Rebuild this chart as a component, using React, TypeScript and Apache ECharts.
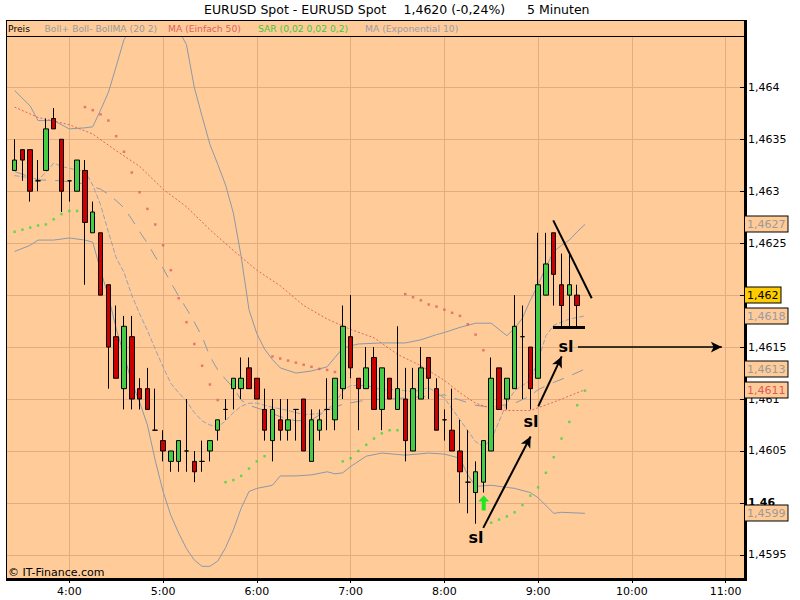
import React, { useEffect, useRef } from 'react';
import * as echarts from 'echarts';

const FONT = '"DejaVu Sans", Verdana, sans-serif';

// ---- data (times are hh:mm, prices EURUSD) ----
const candleTimes = ['3:25','3:30','3:35','3:40','3:45','3:50','3:55','4:00','4:05','4:10','4:15','4:20','4:25','4:30','4:35','4:40','4:45','4:50','4:55','5:00','5:05','5:10','5:15','5:20','5:25','5:30','5:35','5:40','5:45','5:50','5:55','6:00','6:05','6:10','6:15','6:20','6:25','6:30','6:35','6:40','6:45','6:50','6:55','7:00','7:05','7:10','7:15','7:20','7:25','7:30','7:35','7:40','7:45','7:50','7:55','8:00','8:05','8:10','8:15','8:20','8:25','8:30','8:35','8:40','8:45','8:50','8:55','9:00','9:05','9:10','9:15','9:20','9:25'];
const opens  = [1.4632,1.4634,1.4634,1.4631,1.4632,1.4637,1.4635,1.4631,1.4630,1.4632,1.4626,1.4626,1.4621,1.4616,1.4611,1.4616,1.4611,1.4611,1.4607,1.4606,1.4604,1.4604,1.4605,1.4604,1.4604,1.4605,1.4607,1.4609,1.4611,1.4611,1.4613,1.4612,1.4609,1.4606,1.4608,1.4607,1.4609,1.4610,1.4604,1.4607,1.4609,1.4608,1.4611,1.4616,1.4612,1.4611,1.4614,1.4609,1.4612,1.4609,1.4610,1.4605,1.4610,1.4614,1.4611,1.4608,1.4607,1.4605,1.4602,1.4601,1.4602,1.4605,1.4613,1.4610,1.4611,1.4616,1.4615,1.4612,1.4620,1.4626,1.4621,1.4620,1.4620];
const closes = [1.4633,1.4633,1.4630,1.4631,1.4636,1.4636,1.4630,1.4631,1.4633,1.4627,1.4628,1.4620,1.4615,1.4612,1.4617,1.4610,1.4610,1.4609,1.4607,1.4605,1.4605,1.4606,1.4605,1.4603,1.4604,1.4606,1.4608,1.4609,1.4612,1.4612,1.4611,1.4610,1.4607,1.4609,1.4607,1.4608,1.4609,1.4605,1.4608,1.4608,1.4609,1.4612,1.4617,1.4613,1.4611,1.4613,1.4609,1.4613,1.4610,1.4611,1.4606,1.4611,1.4613,1.4612,1.4607,1.4608,1.4605,1.4603,1.4602,1.4603,1.4606,1.4612,1.4609,1.4612,1.4617,1.4616,1.4611,1.4621,1.4623,1.4622,1.4619,1.4621,1.4619];
const lows   = [1.4632,1.4631,1.4629,1.4630,1.4632,1.4636,1.4628,1.4629,1.4630,1.4621,1.4626,1.4620,1.4611,1.4612,1.4609,1.4609,1.4609,1.4609,1.4607,1.4604,1.4603,1.4603,1.4603,1.4602,1.4603,1.4604,1.4606,1.4608,1.4609,1.4610,1.4611,1.4610,1.4606,1.4604,1.4606,1.4606,1.4606,1.4605,1.4604,1.4606,1.4607,1.4607,1.4610,1.4612,1.4607,1.4611,1.4609,1.4607,1.4610,1.4609,1.4604,1.4605,1.4610,1.4610,1.4607,1.4606,1.4605,1.4600,1.4599,1.4598,1.4601,1.4605,1.4609,1.4609,1.4611,1.4610,1.4609,1.4612,1.4620,1.4619,1.4617,1.4617,1.4617];
const highs  = [1.4635,1.4634,1.4634,1.4633,1.4637,1.4638,1.4635,1.4631,1.4633,1.4633,1.4629,1.4626,1.4621,1.4619,1.4618,1.4618,1.4612,1.4613,1.4611,1.4607,1.4605,1.4606,1.4610,1.4605,1.4606,1.4606,1.4608,1.4610,1.4612,1.4614,1.4614,1.4612,1.4611,1.4610,1.4610,1.4610,1.4609,1.4610,1.4609,1.4609,1.4612,1.4612,1.4619,1.4620,1.4612,1.4615,1.4615,1.4613,1.4612,1.4617,1.4613,1.4613,1.4615,1.4614,1.4612,1.4609,1.4611,1.4608,1.4607,1.4604,1.4606,1.4614,1.4613,1.4612,1.4620,1.4619,1.4615,1.4626,1.4626,1.4626,1.4624,1.4624,1.4621];

const upperTimes = ['3:25','3:35','3:40','3:50','4:00','4:10','4:15','4:20','4:25','4:30','4:35','4:40','4:50','5:00','5:10','5:15','5:20','5:25','5:30','5:35','5:40','5:45','5:50','5:55','6:00','6:05','6:10','6:15','6:25','6:35','6:45','6:50','6:55','7:05','7:20','7:35','7:45','7:55','8:00','8:10','8:20','8:30','8:40','8:45','8:50','8:55','9:00','9:05','9:10','9:15','9:20','9:25','9:30'];
const upperBand = [1.46397,1.46382,1.46368,1.46368,1.46360,1.46361,1.46362,1.46378,1.46395,1.46420,1.46446,1.46457,1.46468,1.46473,1.46455,1.46441,1.46400,1.46372,1.46345,1.46326,1.46306,1.46279,1.46237,1.46186,1.46163,1.46148,1.46138,1.46130,1.46125,1.46127,1.46131,1.46140,1.46149,1.46153,1.46154,1.46154,1.46157,1.46162,1.46164,1.46169,1.46173,1.46173,1.46161,1.46168,1.46178,1.46195,1.46210,1.46227,1.46242,1.46248,1.46253,1.46261,1.46268];

const lowerTimes = ['3:25','3:35','3:40','3:50','4:00','4:10','4:15','4:20','4:25','4:30','4:35','4:40','4:45','4:50','4:55','5:00','5:05','5:10','5:15','5:20','5:25','5:30','5:35','5:40','5:45','5:50','5:55','6:00','6:10','6:15','6:25','6:35','6:45','6:50','6:55','7:00','7:10','7:20','7:35','7:50','8:00','8:10','8:15','8:20','8:30','8:40','8:45','8:55','9:00','9:10','9:15','9:30'];
const lowerBand = [1.46242,1.46248,1.46253,1.46253,1.46255,1.46253,1.46251,1.46224,1.46199,1.46168,1.46142,1.46116,1.46097,1.46075,1.46041,1.46011,1.45988,1.45971,1.45956,1.45945,1.45939,1.45939,1.45944,1.45957,1.45974,1.45995,1.46011,1.46014,1.46017,1.46026,1.46026,1.46027,1.46030,1.46028,1.46029,1.46035,1.46045,1.46048,1.46046,1.46048,1.46047,1.46043,1.46027,1.46016,1.46017,1.46015,1.46014,1.46010,1.46005,1.45990,1.45991,1.45990];

const middleTimes = ['3:25','3:40','3:55','4:10','4:20','4:25','4:30','4:35','4:40','4:45','4:50','4:55','5:00','5:05','5:10','5:15','5:20','5:25','5:30','5:35','5:40','5:45','5:50','5:55','6:05','6:15','6:25','6:35','6:45','6:55','7:10','7:35','8:00','8:10','8:20','8:30','8:45','8:55','9:00','9:10','9:20','9:30'];
const middleBand = [1.46319,1.46311,1.46310,1.46307,1.46302,1.46297,1.46291,1.46284,1.46273,1.46261,1.46250,1.46237,1.46226,1.46212,1.46199,1.46187,1.46174,1.46160,1.46141,1.46128,1.46119,1.46111,1.46099,1.46094,1.46089,1.46083,1.46079,1.46080,1.46089,1.46095,1.46099,1.46101,1.46104,1.46099,1.46094,1.46092,1.46096,1.46103,1.46109,1.46116,1.46122,1.46129];

const emaTimes = ['3:25','3:35','3:40','3:45','3:50','3:55','4:00','4:10','4:15','4:20','4:25','4:30','4:35','4:40','4:45','4:50','4:55','5:00','5:05','5:10','5:15','5:20','5:25','5:30','5:35','5:40','5:45','5:50','5:55','6:00','6:10','6:20','6:30','6:40','6:50','6:55','7:00','7:10','7:20','7:30','7:40','7:50','8:00','8:10','8:20','8:25','8:30','8:40','8:45','8:55','9:00','9:05','9:10','9:20','9:30'];
const ema10 = [1.46315,1.46313,1.46311,1.46318,1.46327,1.46324,1.46322,1.46319,1.46306,1.46287,1.46261,1.46236,1.46222,1.46200,1.46182,1.46166,1.46148,1.46131,1.46115,1.46106,1.46098,1.46087,1.46079,1.46075,1.46073,1.46079,1.46087,1.46093,1.46096,1.46096,1.46092,1.46089,1.46085,1.46086,1.46095,1.46108,1.46113,1.46113,1.46109,1.46109,1.46107,1.46111,1.46101,1.46080,1.46059,1.46054,1.46061,1.46096,1.46108,1.46118,1.46137,1.46161,1.46171,1.46177,1.46180];

const maTimes = ['3:25','3:40','4:00','4:15','4:30','4:45','5:00','5:15','5:30','5:45','6:00','6:15','6:30','6:45','7:00','7:15','7:30','7:45','8:00','8:10','8:20','8:30','8:40','8:55','9:10','9:20','9:30'];
const ma50 = [1.46381,1.46371,1.46364,1.46355,1.46339,1.46324,1.46302,1.46285,1.46263,1.46243,1.46224,1.46209,1.46190,1.46177,1.46167,1.46159,1.46143,1.46132,1.46118,1.46106,1.46096,1.46091,1.46089,1.46089,1.46097,1.46103,1.46109];

const sarBullTimes = ['3:25','3:30','3:35','3:40','3:45','3:50','3:55','4:00','4:05','5:40','5:45','5:50','5:55','6:00','6:05','6:55','7:00','7:05','7:10','7:15','7:20','7:25','7:30','8:30','8:35','8:40','8:45','8:50','8:55','9:00','9:05','9:10','9:15','9:20','9:25','9:30'];
const sarBull = [1.46261,1.46263,1.46265,1.46267,1.46268,1.46273,1.46278,1.46281,1.46281,1.46020,1.46022,1.46026,1.46033,1.46040,1.46045,1.46040,1.46043,1.46050,1.46056,1.46062,1.46067,1.46070,1.46070,1.45981,1.45984,1.45987,1.45991,1.45998,1.46007,1.46015,1.46029,1.46044,1.46062,1.46078,1.46094,1.46108];
const sarBearTimes = ['4:10','4:15','4:20','4:25','4:30','4:35','4:40','4:45','4:50','4:55','5:00','5:05','5:10','5:15','5:20','5:25','5:30','5:35','6:10','6:15','6:20','6:25','6:30','6:35','6:40','6:45','6:50','7:35','7:40','7:45','7:50','7:55','8:00','8:05','8:10','8:15','8:20','8:25'];
const sarBear = [1.46381,1.46378,1.46374,1.46368,1.46353,1.46338,1.46318,1.46299,1.46283,1.46268,1.46248,1.46224,1.46197,1.46174,1.46153,1.46132,1.46114,1.46099,1.46141,1.46139,1.46137,1.46135,1.46133,1.46131,1.46129,1.46128,1.46126,1.46201,1.46198,1.46195,1.46191,1.46189,1.46186,1.46183,1.46180,1.46172,1.46162,1.46147];

const hourLabels = ['4:00','5:00','6:00','7:00','8:00','9:00','10:00','11:00'];
const priceTicks = [1.4595,1.46,1.4605,1.461,1.4615,1.462,1.4625,1.463,1.4635,1.464];
const lastPrice = 1.4620;
const changePct = -0.24;

// drawn trend lines / arrows (time, price)
const trendLines = [
  { from: ['9:09.7', 1.46272], to: ['9:34.3', 1.46197], width: 2, arrow: false },
  { from: ['9:09.5', 1.46169], to: ['9:30', 1.46169], width: 3, arrow: false },
  { from: ['9:25.5', 1.4615], to: ['10:57.6', 1.4615], width: 1.5, arrow: true },
  { from: ['9:00.1', 1.46093], to: ['9:15.1', 1.46141], width: 2, arrow: true },
  { from: ['8:24.9', 1.45976], to: ['8:55.2', 1.46064], width: 2, arrow: true },
];
const slTexts = [['9:17.8', 1.46151], ['8:55.4', 1.46078], ['8:20.2', 1.45967]];
const buySignal = ['8:25.2', 1.46000];

// ---- helpers ----
const toMin = (s: string) => { const [h, m] = s.split(':'); return Number(h) * 60 + Number(m); };
const fmtTime = (v: number) => `${Math.floor(v / 60)}:${String(Math.round(v % 60)).padStart(2, '0')}`;
const fmtPrice = (v: number) => v.toFixed(4).replace(/0+$/, '').replace(/\.$/, '').replace('.', ',');
const pairs = (ts: string[], vs: number[]) => ts.map((t, i) => [toMin(t), vs[i]]);

const GRID_COLOR = '#e3ad7f';
const BAND_COLOR = '#8c98a8';

export default function App() {
  const ref = useRef<HTMLDivElement>(null);
  useEffect(() => {
    if (!ref.current) return;
    const chart = echarts.init(ref.current, undefined, { renderer: 'svg' });
    const hourTicks = hourLabels.map(toMin);
    const option: any = {
      animation: false,
      backgroundColor: '#ffffff',
      grid: { left: 6, right: 55, top: 36, bottom: 21, show: true, backgroundColor: '#ffcc99', borderWidth: 0 },
      xAxis: {
        type: 'value', min: 199.5, max: 672.4,
        axisLine: { show: false },
        axisTick: { show: true, customValues: hourTicks, length: 4, lineStyle: { color: '#000' } },
        axisLabel: { customValues: hourTicks, formatter: (v: number) => fmtTime(v), color: '#000', fontFamily: FONT, fontSize: 11, margin: 7 },
        splitLine: { show: true, lineStyle: { color: GRID_COLOR, width: 1 } },
      },
      yAxis: {
        type: 'value', position: 'right', min: 1.459268, max: 1.464494, scale: true,
        axisLine: { show: false },
        axisTick: { show: true, inside: true, length: 5, customValues: priceTicks, lineStyle: { color: '#000' } },
        axisLabel: {
          customValues: priceTicks, color: '#000', fontFamily: FONT, fontSize: 11, margin: 3,
          formatter: (v: number) => (Math.abs(v - 1.46) < 1e-9 ? `{b|${fmtPrice(v)}}` : fmtPrice(v)),
          rich: { b: { fontWeight: 'bold', fontFamily: FONT, fontSize: 11, color: '#000' } },
        },
        splitLine: { show: true, lineStyle: { color: GRID_COLOR, width: 1 } },
      },
      series: [
        { type: 'line', name: 'BollUp', data: pairs(upperTimes, upperBand), symbol: 'none', silent: true, z: 1, lineStyle: { color: BAND_COLOR, width: 1 } },
        { type: 'line', name: 'BollDn', data: pairs(lowerTimes, lowerBand), symbol: 'none', silent: true, z: 1, lineStyle: { color: BAND_COLOR, width: 1 } },
        { type: 'line', name: 'BollMA', data: pairs(middleTimes, middleBand), symbol: 'none', silent: true, z: 1, lineStyle: { color: BAND_COLOR, width: 1, type: [12, 9] } },
        { type: 'line', name: 'MA50', data: pairs(maTimes, ma50), symbol: 'none', silent: true, z: 1, lineStyle: { color: '#e06464', width: 1, type: [2, 2] } },
        { type: 'line', name: 'EMA10', data: pairs(emaTimes, ema10), symbol: 'none', silent: true, z: 1, lineStyle: { color: '#99a1b3', width: 1, type: [5, 2] } },
        { type: 'scatter', name: 'SARbull', data: pairs(sarBullTimes, sarBull), symbol: 'rect', symbolSize: 2.5, silent: true, z: 2, itemStyle: { color: '#3ed83e' } },
        { type: 'scatter', name: 'SARbear', data: pairs(sarBearTimes, sarBear), symbol: 'rect', symbolSize: 2.5, silent: true, z: 2, itemStyle: { color: '#e06060' } },
        {
          type: 'candlestick', name: 'Preis', z: 3, silent: true, barWidth: 5,
          data: candleTimes.map((t, i) => [toMin(t), opens[i], closes[i], lows[i], highs[i]]),
          itemStyle: { color: '#44cc44', color0: '#cc0000', borderColor: '#000', borderColor0: '#000', borderWidth: 1 },
          markLine: {
            silent: true, symbol: ['none', 'none'], label: { show: false },
            lineStyle: { color: '#000', width: 2, type: 'solid' },
            data: trendLines.map((l) => [
              { coord: [toMin(l.from[0] as string), l.from[1]], symbol: 'none', lineStyle: { color: '#000', width: l.width, type: 'solid' } },
              { coord: [toMin(l.to[0] as string), l.to[1]], symbol: l.arrow ? 'arrow' : 'none', symbolSize: [8, 11] },
            ]),
          },
          markPoint: {
            silent: true,
            data: [
              ...slTexts.map((s) => ({
                coord: [toMin(s[0] as string), s[1]], symbol: 'rect', symbolSize: 1, itemStyle: { color: 'rgba(0,0,0,0)' },
                label: { show: true, position: 'inside', formatter: 'sl', color: '#000', fontFamily: FONT, fontSize: 16, fontWeight: 'bold' },
              })),
              {
                coord: [toMin(buySignal[0] as string), buySignal[1]], symbol: 'path://M5.5 0 L11 6 L7.5 6 L7.5 15 L3.5 15 L3.5 6 L0 6 Z',
                symbolSize: [11, 15], itemStyle: { color: '#1fe61f' }, label: { show: false },
              },
            ],
          },
        },
      ],
    };
    chart.setOption(option);

    const lastT = toMin('9:30');
    const boxDefs = [
      { v: upperBand[upperBand.length - 1], fill: '#9a9a9a', bg: '#ffcc99' },
      { v: lastPrice, fill: '#000000', bg: '#ffcc00' },
      { v: ema10[ema10.length - 1], fill: '#9a9aa8', bg: '#ffcc99' },
      { v: middleBand[middleBand.length - 1], fill: '#9a9a9a', bg: '#ffcc99' },
      { v: ma50[ma50.length - 1], fill: '#e05858', bg: '#ffcc99' },
      { v: lowerBand[lowerBand.length - 1], fill: '#9a9a9a', bg: '#ffcc99' },
    ];
    const boxEls = boxDefs.map((b) => {
      const pt = chart.convertToPixel({ gridIndex: 0 } as any, [lastT, b.v]) as number[];
      return {
        type: 'text', x: 745, y: Math.round(pt[1]), z: 120,
        style: {
          text: fmtPrice(b.v), fill: b.fill, font: `11px ${FONT}`, verticalAlign: 'middle', align: 'left',
          backgroundColor: b.bg, borderColor: '#000', borderWidth: 1, padding: [2, 2, 2, 2],
        },
      };
    });

    const legendItems = [
      { text: 'Preis', x: 8, fill: '#000000' },
      { text: 'Boll+ Boll- BollMA (20 2)', x: 44.5, fill: '#9a9a9a' },
      { text: 'MA (Einfach 50)', x: 168, fill: '#e06060' },
      { text: 'SAR (0,02 0,02 0,2)', x: 258, fill: '#3cc83c' },
      { text: 'MA (Exponential 10)', x: 365, fill: '#9a9aaa' },
    ];
    const titleParts = [
      { text: 'EURUSD Spot - EURUSD Spot', x: 204 },
      { text: `${lastPrice.toFixed(4).replace('.', ',')} (${changePct.toFixed(2).replace('.', ',')}%)`, x: 403.5 },
      { text: '5 Minuten', x: 527 },
    ];
    const staticEls: any[] = [
      { type: 'rect', z: 90, shape: { x: 6.5, y: 20.5, width: 738, height: 16 }, style: { fill: '#ffcc99', stroke: '#000', lineWidth: 1 } },
      { type: 'line', z: 110, shape: { x1: 6.5, y1: 20, x2: 6.5, y2: 580 }, style: { stroke: '#000', lineWidth: 1 } },
      { type: 'rect', z: 110, shape: { x: 744, y: 20, width: 3, height: 561 }, style: { fill: '#000' } },
      { type: 'rect', z: 110, shape: { x: 6, y: 578, width: 741, height: 3 }, style: { fill: '#000' } },
      ...legendItems.map((l) => ({ type: 'text', z: 95, x: l.x, y: 28.5, style: { text: l.text, fill: l.fill, font: `9.2px ${FONT}`, verticalAlign: 'middle' } })),
      ...titleParts.map((p) => ({ type: 'text', z: 95, x: p.x, y: 9, style: { text: p.text, fill: '#000', font: `12.5px ${FONT}`, verticalAlign: 'middle' } })),
      { type: 'text', z: 95, x: 8, y: 572, style: { text: '© IT-Finance.com', fill: '#000', font: `11px ${FONT}`, verticalAlign: 'middle' } },
    ];
    chart.setOption({ graphic: { elements: [...staticEls, ...boxEls] } });
    return () => chart.dispose();
  }, []);
  return <div ref={ref} style={{ position: 'fixed', left: 0, top: 0, width: 800, height: 600 }} />;
}
